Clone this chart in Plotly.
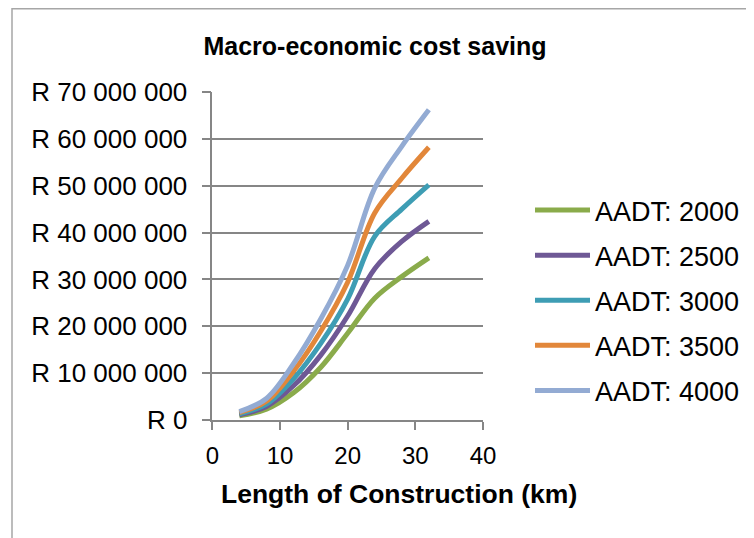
import plotly.graph_objects as go

# Data (values in Rand)
length_km = [4, 8, 12, 16, 20, 24, 28, 32]
aadt_2000 = [0.9e6, 2.3e6, 5.8e6, 11.2e6, 18.5e6, 26.0e6, 30.6e6, 34.6e6]
aadt_2500 = [1.1e6, 2.9e6, 7.3e6, 13.8e6, 22.2e6, 32.3e6, 38.1e6, 42.4e6]
aadt_3000 = [1.3e6, 3.4e6, 8.8e6, 16.3e6, 25.8e6, 39.2e6, 45.0e6, 50.2e6]
aadt_3500 = [1.6e6, 4.0e6, 10.4e6, 18.9e6, 29.4e6, 44.2e6, 51.6e6, 58.2e6]
aadt_4000 = [1.8e6, 4.6e6, 12.0e6, 21.5e6, 33.0e6, 49.5e6, 58.4e6, 66.2e6]

series_names = ["AADT: 2000", "AADT: 2500", "AADT: 3000", "AADT: 3500", "AADT: 4000"]
series_values = [aadt_2000, aadt_2500, aadt_3000, aadt_3500, aadt_4000]
series_colors = ["#8AAB4B", "#6E5895", "#3E9DB4", "#E2873A", "#93ABD3"]

y_tickvals = [0, 10e6, 20e6, 30e6, 40e6, 50e6, 60e6, 70e6]
y_ticktext = ["R 0", "R 10 000 000", "R 20 000 000", "R 30 000 000",
              "R 40 000 000", "R 50 000 000", "R 60 000 000", "R 70 000 000"]
x_tickvals = [0, 10, 20, 30, 40]

chart_title = "Macro-economic cost saving"
x_title = "Length of Construction (km)"

# page has an 8px body margin, so the figure is sized to fit the window
W, H = 746, 530
OFF = 8
FONT = "Liberation Sans, Arial, sans-serif"
GRAY = "#868686"


def px_x(p):
    return (p - OFF) / W


def px_y(p):
    return 1 - (p - OFF) / H


fig = go.Figure()
for name, vals, col in zip(series_names, series_values, series_colors):
    fig.add_trace(go.Scatter(
        x=length_km, y=vals, name=name, mode="lines",
        line=dict(color=col, width=5, shape="spline", smoothing=1.0),
        legendgroup=name,
    ))

fig.update_layout(
    width=W, height=H,
    margin=dict(l=0, r=0, t=0, b=0),
    paper_bgcolor="white", plot_bgcolor="white",
    font=dict(family=FONT, size=25, color="black"),
    showlegend=True,
    legend=dict(
        x=px_x(530), xanchor="left", y=px_y(186), yanchor="top",
        font=dict(family=FONT, size=27, color="black"),
        tracegroupgap=7, bgcolor="rgba(0,0,0,0)", itemwidth=55,
    ),
    title=dict(
        text="<b>" + chart_title + "</b>",
        x=px_x(375), xanchor="center", y=px_y(46), yanchor="middle",
        font=dict(family=FONT, size=25, color="black"),
    ),
    xaxis=dict(
        domain=[px_x(212.3), px_x(483)], range=[0, 40], tickvals=x_tickvals,
        showgrid=False, zeroline=False,
        showline=True, linecolor=GRAY, linewidth=1.5,
        ticks="outside", ticklen=8, tickcolor=GRAY, tickwidth=1.5,
        ticklabelstandoff=5,
        tickfont=dict(family=FONT, size=24),
        automargin=False,
    ),
    yaxis=dict(
        domain=[px_y(420), px_y(92)], range=[0, 70e6],
        tickvals=y_tickvals, ticktext=y_ticktext,
        showgrid=True, gridcolor=GRAY, gridwidth=1.5,
        zeroline=False,
        showline=True, linecolor=GRAY, linewidth=1.5,
        ticks="outside", ticklen=9, tickcolor=GRAY, tickwidth=1.5,
        ticklabelstandoff=9,
        tickfont=dict(family=FONT, size=26),
        automargin=False,
    ),
    annotations=[dict(
        text="<b>" + x_title + "</b>", xref="paper", yref="paper",
        x=px_x(399), y=px_y(494), xanchor="center", yanchor="middle",
        showarrow=False, font=dict(family=FONT, size=26.5, color="black"),
    )],
    shapes=[dict(type="rect", xref="paper", yref="paper",
                 x0=px_x(12), x1=1.05, y0=-0.05, y1=px_y(8.75),
                 line=dict(color="#A6A6A6", width=1.5), fillcolor="rgba(0,0,0,0)",
                 layer="below")],
)

fig.write_html("out.html")
